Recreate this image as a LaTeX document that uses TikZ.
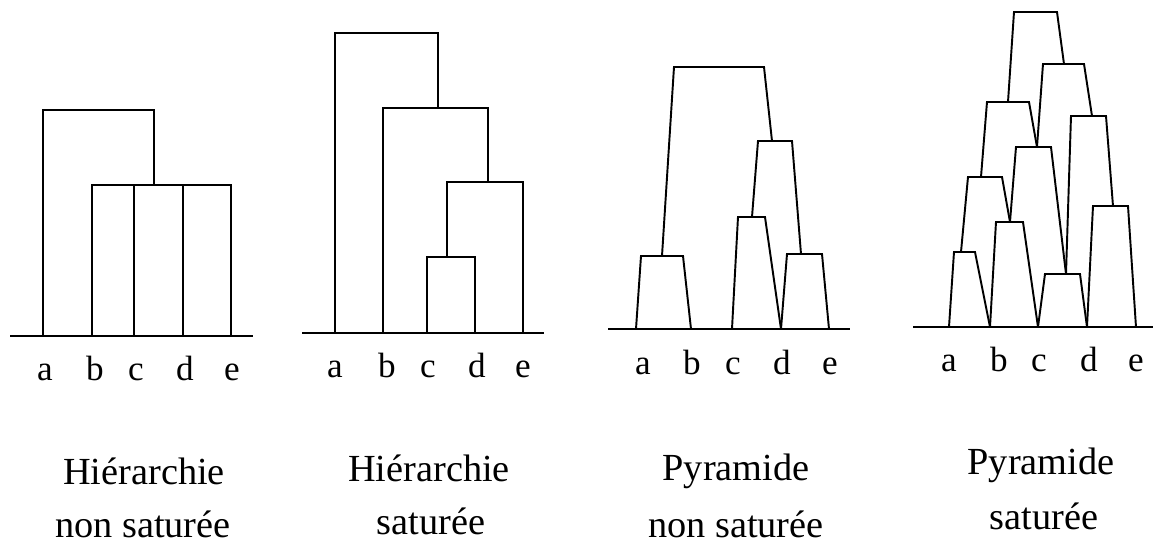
\documentclass[tikz,border=0pt]{standalone}
\usepackage{fontspec}
\setmainfont{Liberation Serif}
\tikzset{
  leaf/.style={font=\fontsize{20}{22}\selectfont, anchor=base, inner sep=0pt},
  caption/.style={font=\fontsize{21.8}{26}\selectfont, anchor=base, inner sep=0pt},
  tree/.style={line width=1.1pt, line join=miter}
}
\begin{document}
\begin{tikzpicture}[x=0.02cm, y=-0.02cm]
\useasboundingbox (0,0) rectangle (1154,550);
% hierarchie non saturee
\draw[tree] (10,336) -- (253,336);
\draw[tree] (43,336) -- (43,110) -- (154,110) -- (154,185);
\draw[tree] (92,336) -- (92,185) -- (231,185) -- (231,336);
\draw[tree] (134,185) -- (134,336);
\draw[tree] (183,185) -- (183,336);
\foreach \n/\x in {a/45,b/95,c/136,d/185,e/232}
  \node[leaf] (\n1) at (\x,381) {\n};
\node[caption] (t1) at (144,485) {Hiérarchie};
\node[caption] (s1) at (143,538) {non saturée};
% hierarchie saturee
\draw[tree] (302,333) -- (544,333);
\draw[tree] (335,333) -- (335,33) -- (438,33) -- (438,108);
\draw[tree] (383,333) -- (383,108) -- (488,108) -- (488,182);
\draw[tree] (447,257) -- (447,182) -- (523,182) -- (523,333);
\draw[tree] (427,333) -- (427,257) -- (475,257) -- (475,333);
\foreach \n/\x in {a/335,b/387,c/428,d/477,e/523}
  \node[leaf] (\n2) at (\x,378) {\n};
\node[caption] (t2) at (429,482) {Hiérarchie};
\node[caption] (s2) at (431,535) {saturée};
% pyramide non saturee
\draw[tree] (608,329) -- (850,329);
\draw[tree] (636,329) -- (641,256) -- (683,256) -- (691,329);
\draw[tree] (732,329) -- (738,217) -- (765,217) -- (781,329);
\draw[tree] (781,329) -- (787,254) -- (822,254) -- (829,329);
\draw[tree] (752,217) -- (758,141) -- (792,141) -- (801,254);
\draw[tree] (662,256) -- (674,67) -- (764,67) -- (772,141);
\foreach \n/\x in {a/643,b/692,c/733,d/782,e/830}
  \node[leaf] (\n3) at (\x,375) {\n};
\node[caption] (t3) at (736,481) {Pyramide};
\node[caption] (s3) at (736,538) {non saturée};
% pyramide saturee
\draw[tree] (913,327) -- (1153,327);
\draw[tree] (949,327) -- (954,252) -- (975,252) -- (990,327);
\draw[tree] (990,327) -- (996,222) -- (1023,222) -- (1038,327);
\draw[tree] (1038,327) -- (1045,274) -- (1080,274) -- (1087,327);
\draw[tree] (1087,327) -- (1093,206) -- (1128,206) -- (1136,327);
\draw[tree] (961,252) -- (968,177) -- (1002,177) -- (1010,222);
\draw[tree] (1010,222) -- (1016,147) -- (1051,147) -- (1066,274);
\draw[tree] (1066,274) -- (1071,116) -- (1106,116) -- (1113,206);
\draw[tree] (981,177) -- (987,102) -- (1029,102) -- (1037,147);
\draw[tree] (1037,147) -- (1043,64) -- (1084,64) -- (1092,116);
\draw[tree] (1008,102) -- (1014,12) -- (1057,12) -- (1064,64);
\foreach \n/\x in {a/949,b/999,c/1039,d/1089,e/1136}
  \node[leaf] (\n4) at (\x,372) {\n};
\node[caption] (t4) at (1041,475) {Pyramide};
\node[caption] (s4) at (1044,530) {saturée};
\end{tikzpicture}
\end{document}
